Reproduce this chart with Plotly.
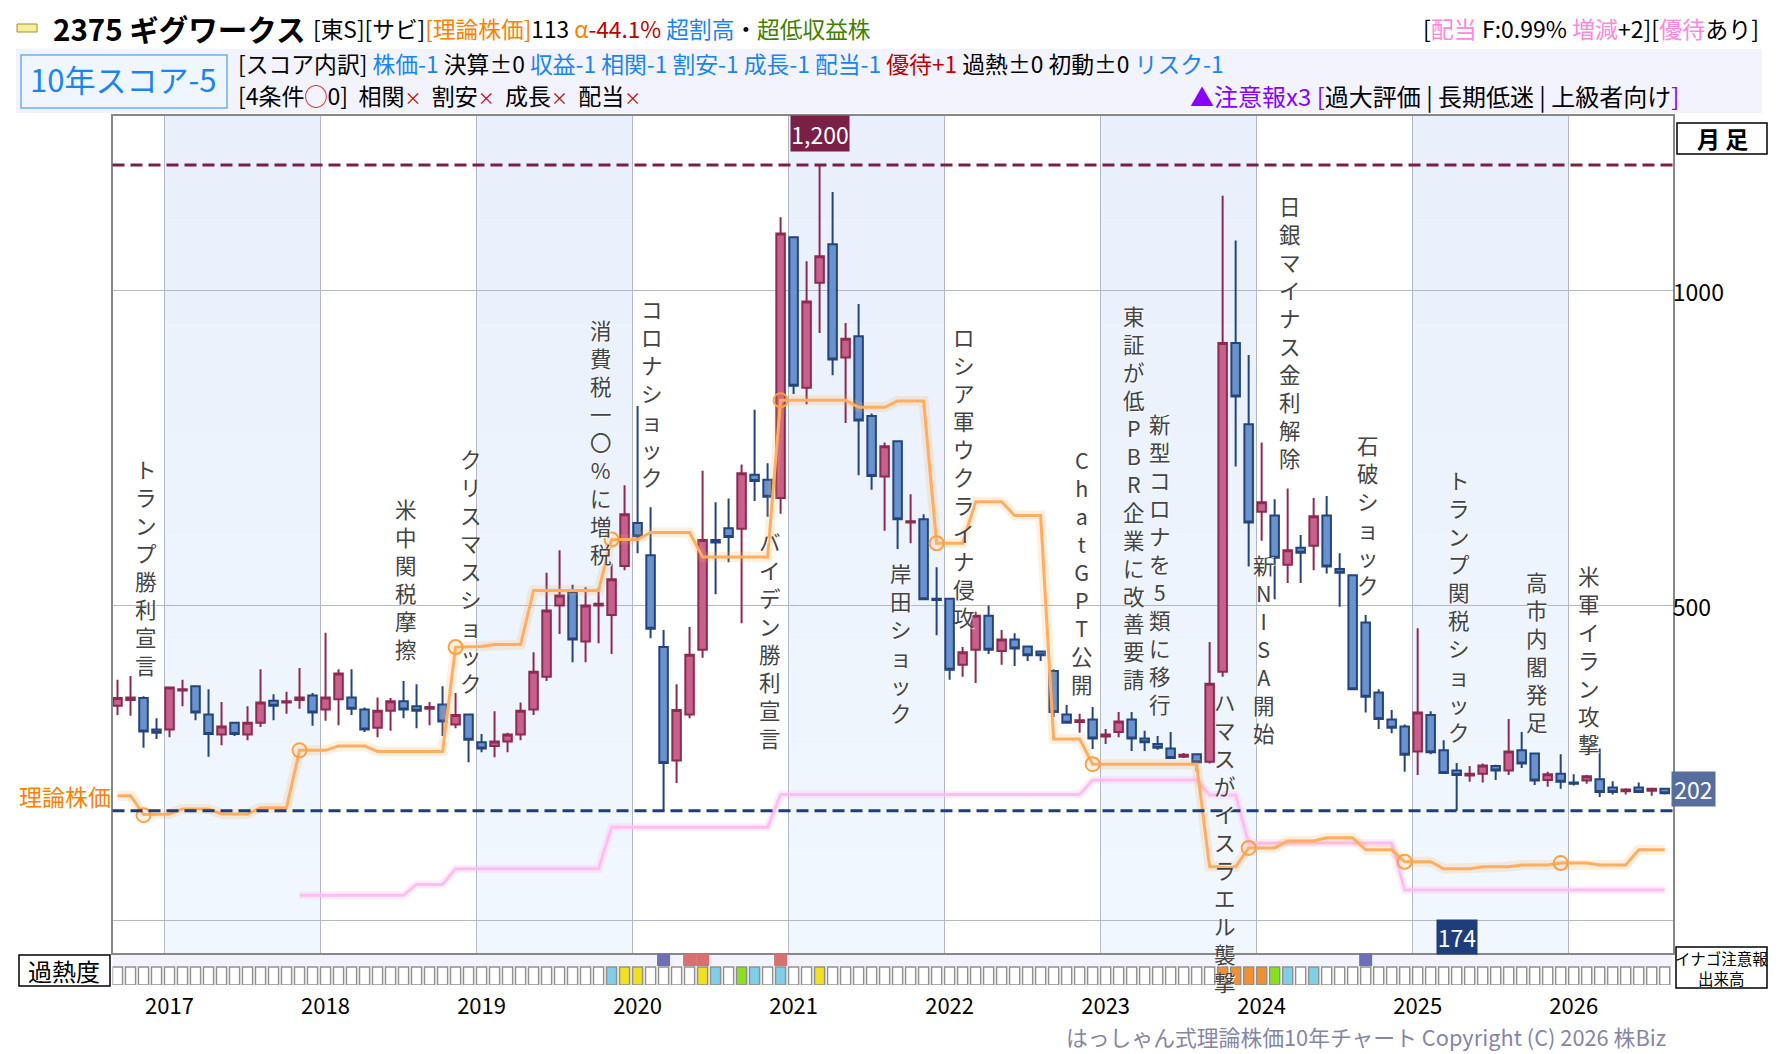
import plotly.graph_objects as go

W, H = 1780, 1054
PAGE = 8  # the page keeps its default body margin
FONT = "Noto Sans CJK JP"

# monthly candles
opens = [341, 350, 353, 303, 303, 365, 372, 327, 295, 314, 295, 314, 349, 346, 350, 357, 335, 351, 354, 335,
         306, 333, 348, 340, 336, 343, 311, 327, 283, 277, 284, 295, 335, 387, 500, 521, 443, 500, 485, 563,
         631, 580, 434, 254, 327, 430, 604, 623, 622, 708, 700, 671, 1085, 846, 1013, 1074, 894, 928, 801, 705,
         761, 632, 637, 511, 511, 406, 430, 484, 428, 446, 435, 427, 396, 327, 315, 319, 292, 299, 319, 289,
         280, 273, 260, 264, 252, 395, 917, 788, 649, 643, 565, 592, 595, 643, 558, 548, 473, 362, 319, 308,
         268, 326, 270, 238, 230, 233, 245, 238, 270, 265, 223, 233, 219, 222, 224, 211, 205, 211, 206, 209]
highs = [382, 388, 356, 321, 370, 382, 372, 367, 347, 314, 340, 399, 359, 363, 401, 361, 457, 399, 399, 338,
         354, 353, 380, 375, 347, 372, 361, 327, 296, 332, 298, 346, 426, 552, 588, 533, 529, 528, 567, 691,
         817, 656, 461, 375, 466, 714, 664, 670, 724, 811, 726, 1117, 1085, 1047, 1200, 1157, 949, 979, 805, 759,
         761, 677, 645, 561, 511, 434, 490, 500, 461, 456, 435, 427, 399, 342, 328, 339, 304, 331, 331, 301,
         293, 299, 266, 264, 442, 1151, 1080, 898, 759, 669, 686, 612, 671, 674, 583, 548, 485, 367, 334, 311,
         464, 332, 286, 250, 245, 249, 247, 320, 299, 265, 236, 264, 232, 231, 273, 221, 210, 219, 210, 209]
lows = [326, 325, 274, 288, 291, 340, 318, 260, 278, 293, 286, 307, 318, 328, 336, 309, 317, 310, 326, 299,
        291, 301, 321, 305, 310, 293, 305, 251, 267, 259, 267, 286, 326, 380, 455, 410, 410, 440, 423, 556,
        583, 448, 174, 218, 321, 417, 518, 569, 472, 666, 641, 646, 836, 820, 933, 866, 790, 707, 684, 619,
        590, 599, 509, 453, 382, 387, 377, 423, 406, 404, 412, 412, 323, 314, 298, 272, 280, 291, 269, 269,
        271, 258, 258, 237, 249, 387, 721, 562, 603, 510, 536, 536, 556, 551, 498, 367, 330, 304, 297, 236,
        231, 264, 234, 174, 220, 219, 223, 231, 242, 215, 212, 209, 214, 217, 196, 200, 200, 203, 198, 200]
closes = [353, 354, 300, 298, 370, 367, 330, 296, 308, 296, 314, 346, 341, 348, 354, 330, 354, 392, 336, 303,
          333, 348, 335, 333, 339, 316, 326, 287, 273, 284, 295, 333, 395, 492, 516, 446, 500, 503, 542, 645,
          610, 463, 250, 334, 422, 604, 600, 609, 710, 698, 673, 1091, 849, 983, 1055, 891, 924, 794, 706, 753,
          637, 634, 510, 509, 398, 426, 484, 430, 446, 432, 421, 421, 331, 314, 318, 289, 295, 316, 289, 283,
          274, 258, 263, 251, 376, 917, 832, 632, 664, 576, 588, 584, 642, 562, 552, 367, 355, 320, 306, 263,
          330, 267, 234, 231, 233, 246, 238, 268, 249, 222, 232, 220, 217, 229, 204, 204, 208, 204, 209, 202]
months = list(range(len(closes)))

# theory price line
theory_x = [0, 1, 2, 4, 5, 7, 8, 10, 11, 13, 14, 16, 17, 19, 20, 25, 26, 28, 29, 31, 32, 37, 38, 40, 41, 44, 45, 50,
            51, 56, 57, 59, 60, 62, 63, 65, 66, 68, 69, 71, 72, 74, 75, 83, 84, 86, 87, 89, 90, 92, 93, 95, 96, 98,
            99, 101, 102, 104, 105, 107, 108, 110, 111, 113, 114, 116, 117, 119]
theory_y = [198, 198, 168, 169, 177, 177, 169, 169, 179, 179, 270, 270, 277, 277, 268, 268, 434, 435, 438, 438,
            524, 524, 605, 605, 616, 616, 577, 577, 826, 826, 815, 815, 825, 825, 599, 599, 665, 665, 643, 643,
            288, 288, 248, 248, 85, 85, 115, 115, 126, 126, 131, 131, 112, 112, 93, 93, 82, 82, 85, 85,
            88, 88, 91, 91, 88, 88, 112, 112]
circle_x = [2, 14, 26, 38, 51, 63, 75, 87, 99, 111]
circle_y = [167, 270, 434, 605, 826, 599, 248, 115, 93, 91]

# pink line
pink_x = [14, 22, 23, 25, 26, 37, 38, 50, 51, 74, 75, 83, 84, 86, 87, 98, 99, 119]
pink_y = [40, 40, 57, 57, 82, 82, 148, 148, 200, 200, 223, 223, 199, 199, 123, 123, 48, 48]

high_price = 1200
low_price = 174
last_price = 202

years = [2017, 2018, 2019, 2020, 2021, 2022, 2023, 2024, 2025, 2026]
year_ticks = [4, 16, 28, 40, 52, 64, 76, 88, 100, 112]
year_grid = [3.6, 15.6, 27.6, 39.6, 51.6, 63.6, 75.6, 87.6, 99.6, 111.6]
shaded_years = [(3.6, 15.6), (27.6, 39.6), (51.6, 63.6), (75.6, 87.6), (99.6, 111.6)]

# overheat strip
heat_blue = [38, 46, 49, 51, 90, 92]
heat_yellow = [39, 40, 45, 54]
heat_green = [48, 89]
heat_orange = [85, 86, 87, 88]
alert_purple = [42, 96]
alert_red = [44, 45, 51]

events = [
    ("トランプ勝利宣言", 146, 451),
    ("米中関税摩擦", 406, 491),
    ("クリスマスショック", 471, 441),
    ("消費税一〇%に増税", 601, 312),
    ("コロナショック", 652, 291),
    ("バイデン勝利宣言", 770, 524),
    ("岸田ショック", 901, 555),
    ("ロシア軍ウクライナ侵攻", 964, 319),
    ("ChatGPT公開", 1082, 442),
    ("東証が低PBR企業に改善要請", 1134, 298),
    ("新型コロナを5類に移行", 1160, 406),
    ("ハマスがイスラエル襲撃", 1225, 684),
    ("新NISA開始", 1264, 547),
    ("日銀マイナス金利解除", 1290, 188),
    ("石破ショック", 1368, 427),
    ("トランプ関税ショック", 1459, 462),
    ("高市内閣発足", 1537, 564),
    ("米軍イラン攻撃", 1589, 558),
]


def px(x):
    return (x - PAGE) / (W - PAGE)


def py(y):
    return 1 - (y - PAGE) / (H - PAGE)


def c(text, color):
    return f'<span style="color:{color}">{text}</span>'


def put(text, x, y, size, anchor="left", color="#000000", **kw):
    fig.add_annotation(text=text, x=px(x), y=py(y), xref="paper", yref="paper", xanchor=anchor, yanchor="middle",
                       showarrow=False, font=dict(family=FONT, size=size, color=color), **kw)


def box(x0, y0, x1, y1, fill, line=None, width=1.5):
    fig.add_shape(type="rect", xref="paper", yref="paper", x0=px(x0), x1=px(x1), y0=py(y1), y1=py(y0),
                  fillcolor=fill, line=dict(color=line, width=width) if line else dict(width=0), layer="below")


fig = go.Figure()

# heat strip squares
square_colors = []
for m in months:
    if m in heat_blue:
        square_colors.append("#7fcfe8")
    elif m in heat_yellow:
        square_colors.append("#f0e020")
    elif m in heat_green:
        square_colors.append("#88e020")
    elif m in heat_orange:
        square_colors.append("#f09030")
    else:
        square_colors.append("#ffffff")
fig.add_trace(go.Bar(x=months, y=[18] * len(months), base=0, width=0.78, xaxis="x2", yaxis="y2",
                     marker=dict(color=square_colors, line=dict(color="#909090", width=1.5)), showlegend=False))
fig.add_trace(go.Bar(x=alert_purple + alert_red, y=[12.5] * 5, base=19, width=1, xaxis="x2", yaxis="y2",
                     marker=dict(color=["#6f6fb8"] * 2 + ["#d87070"] * 3, line=dict(width=0)), showlegend=False))

# lines under the candles
fig.add_trace(go.Scatter(x=pink_x, y=pink_y, mode="lines", line=dict(color="rgba(255,180,240,0.25)", width=8),
                         showlegend=False))
fig.add_trace(go.Scatter(x=pink_x, y=pink_y, mode="lines", line=dict(color="#ffbdf0", width=3), showlegend=False))
fig.add_trace(go.Scatter(x=theory_x, y=theory_y, mode="lines", line=dict(color="rgba(255,165,70,0.18)", width=10),
                         showlegend=False))
fig.add_trace(go.Scatter(x=theory_x, y=theory_y, mode="lines", line=dict(color="#ffad60", width=3), showlegend=False))
fig.add_trace(go.Scatter(x=circle_x, y=circle_y, mode="markers", showlegend=False,
                         marker=dict(symbol="circle-open", size=14, color="#ffa040", line=dict(width=2))))

fig.add_trace(go.Candlestick(x=months, open=opens, high=highs, low=lows, close=closes, whiskerwidth=0, showlegend=False,
                             increasing=dict(line=dict(color="#8c2a52", width=2), fillcolor="#c8608c"),
                             decreasing=dict(line=dict(color="#24447f", width=2), fillcolor="#6a92cc")))

# shaded years, a bit stronger towards the top
for x0, x1 in shaded_years:
    for s in range(8):
        top = 116 + s * (953 - 116) / 8
        bottom = top + (953 - 116) / 8
        g = 240 + s
        fig.add_shape(type="rect", xref="x", yref="paper", x0=x0, x1=x1, y0=py(bottom), y1=py(top), layer="below",
                      fillcolor=f"rgb({233 + s},{g},{252 + s // 3})", line=dict(width=0))

fig.add_shape(type="line", xref="paper", yref="y", x0=px(112.5), x1=px(1672.5), y0=high_price, y1=high_price,
              line=dict(color="#7a1f45", width=3, dash="12px,6px"))
fig.add_shape(type="line", xref="paper", yref="y", x0=px(112.5), x1=px(1672.5), y0=low_price, y1=low_price,
              line=dict(color="#1f3d7a", width=3, dash="12px,6px"))

# header panels
box(16, 49, 1762, 113, "#f3f3fd")
box(112.5, 954, 1672.5, 966, "#f3f3fd")
box(21, 55, 227, 108, "#f0f6ff", "#6ab0f5")
box(17, 24, 37, 32, "#f5ef9a", "#a09030", 1)
box(1677, 123, 1767, 154, "#ffffff", "#000000")
box(19, 955, 110, 986, "#ffffff", "#000000")
box(1676, 947, 1767, 988, "#ffffff", "#000000")

BLUE, RED = "#1a85f0", "#c00000"
put("<b>2375 ギグワークス</b>", 51, 28, 29.5, height=36)
put("[東S][サビ]" + c("[理論株価]", "#ff7f00") + "113 " + c("α", "#ff7f00") + c("-44.1%", RED) + " "
    + c("超割高", BLUE) + "・" + c("超低収益株", "#3f8000"), 311, 28, 22.7)
put("[" + c("配当", "#ff88dd") + " F:0.99% " + c("増減", "#ff88dd") + "+2][" + c("優待", "#ff88dd") + "あり]",
    1761, 28, 23, anchor="right")
put("10年スコア-5", 123, 79, 31, anchor="center", color=BLUE)
put("[スコア内訳] " + c("株価-1", BLUE) + " 決算±0 " + c("収益-1 相関-1 割安-1 成長-1 配当-1", BLUE) + " "
    + c("優待+1", RED) + " 過熱±0 初動±0 " + c("リスク-1", BLUE), 236, 64, 22.8)
x_mark = '<span style="color:#c00000;font-size:17px">×</span>'
put("[4条件" + c("◯", RED) + "0]  相関" + x_mark + "  割安" + x_mark + "  成長" + x_mark + "  配当" + x_mark, 236, 95, 23)
put(c("▲注意報x3 [", "#8800ff") + "過大評価 | 長期低迷 | 上級者向け" + c("]", "#8800ff"), 1188, 95, 24)
put("<b>月 足</b>", 1722, 138, 23, anchor="center")
put("理論株価", 17, 796, 23, color="#ff7f00")
put("過熱度", 64, 970, 24, anchor="center")
put("イナゴ注意報<br>出来高", 1721, 968, 15.5, anchor="center")
put("はっしゃん式理論株価10年チャート Copyright (C) 2026 株Biz", 1668, 1036, 21.8, anchor="right", color="#8585a8")

# price tags
put(f"{high_price:,}", 820, 133, 23, anchor="center", color="#ffffff", bgcolor="#7a1f45", width=56, height=33)
put(str(low_price), 1457, 937, 23, anchor="center", color="#ffffff", bgcolor="#1f3d7a", width=38, height=32)
put(str(last_price), 1693, 789, 23, anchor="center", color="#ffffff", bgcolor="#566e9e", width=41, height=32)

# event names run vertically, one character a line
for name, x, y in events:
    fig.add_annotation(text="<br>".join(name), x=px(x), y=py(y), xref="paper", yref="paper", xanchor="center",
                       yanchor="top", showarrow=False, align="center",
                       font=dict(family=FONT, size=21.5, color="#444444", shadow="1px 1px 1px #ffffff"))

fig.update_layout(
    width=W - PAGE, height=H - PAGE, margin=dict(l=0, r=0, t=0, b=0), paper_bgcolor="white",
    plot_bgcolor="rgba(0,0,0,0)", font=dict(family=FONT, color="#000000"), showlegend=False, barmode="overlay",
    boxgap=0.2, boxgroupgap=0.18,
    xaxis=dict(domain=[px(112.5), px(1672.5)], range=[-0.385, 119.6], tickvals=year_grid, showticklabels=False,
               showgrid=True, gridcolor="#b4b8c4", gridwidth=1, zeroline=False, showline=True, linecolor="#888888",
               linewidth=1.5, mirror=True, rangeslider=dict(visible=False), anchor="y"),
    yaxis=dict(domain=[py(953), py(116)], range=[-51.9, 1277.7], side="right", tickvals=[0, 500, 1000],
               ticktext=["", "500", "1000"], tickfont=dict(size=23), showgrid=True, gridcolor="#b4b8c4", gridwidth=1,
               ticklabelstandoff=-6, ticklabelshift=2, zeroline=False, showline=True, linecolor="#888888",
               linewidth=1.5, mirror=True, anchor="x"),
    xaxis2=dict(domain=[px(112.5), px(1672.5)], range=[-0.385, 119.6], anchor="y2", tickvals=year_ticks,
                ticktext=years, tickfont=dict(size=22), showgrid=False, zeroline=False, ticks="outside", ticklen=2,
                tickcolor="rgba(0,0,0,0)"),
    yaxis2=dict(domain=[py(985), py(953)], range=[0, 32], showticklabels=False, showgrid=False, zeroline=False),
)

fig.write_html("out.html")
